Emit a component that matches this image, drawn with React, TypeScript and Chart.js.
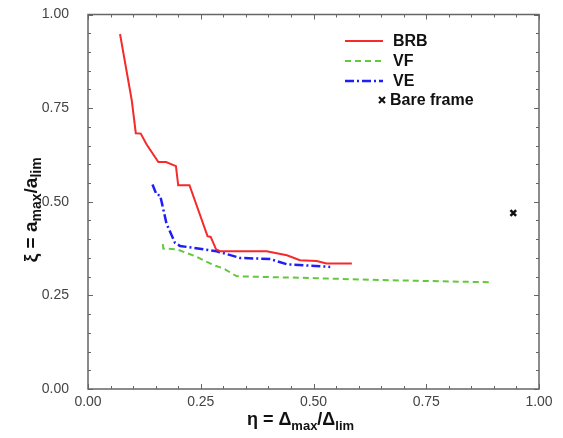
import React, { useEffect, useRef } from "react";
import { Chart, registerables } from "chart.js";

Chart.register(...registerables);

// ---- data ----
const brbEta = [0.071, 0.097, 0.106, 0.117, 0.130, 0.156, 0.173, 0.195, 0.200, 0.225, 0.265, 0.272, 0.284, 0.293, 0.396, 0.441, 0.470, 0.507, 0.529, 0.585];
const brbXi = [0.948, 0.771, 0.683, 0.682, 0.653, 0.606, 0.606, 0.595, 0.544, 0.544, 0.408, 0.406, 0.373, 0.368, 0.368, 0.357, 0.344, 0.342, 0.335, 0.335];

const vfEta = [0.166, 0.167, 0.197, 0.241, 0.278, 0.300, 0.330, 0.503, 0.647, 0.891];
const vfXi = [0.387, 0.375, 0.373, 0.353, 0.331, 0.322, 0.301, 0.296, 0.291, 0.285];

const veEta = [0.143, 0.152, 0.160, 0.174, 0.193, 0.204, 0.285, 0.337, 0.404, 0.441, 0.537];
const veXi = [0.546, 0.519, 0.517, 0.442, 0.390, 0.382, 0.368, 0.350, 0.347, 0.333, 0.326];

const bareEta = [0.943];
const bareXi = [0.470];

const seriesNames = ["BRB", "VF", "VE", "Bare frame"];
const tickLabels = ["0.00", "0.25", "0.50", "0.75", "1.00"];

const FONT = "'Liberation Sans', Arial, Helvetica, sans-serif";

function pts(xs: number[], ys: number[]) {
  return xs.map((x, i) => ({ x, y: ys[i] }));
}

type Seg = { t: string; sub?: boolean };

function drawRich(ctx: CanvasRenderingContext2D, segs: Seg[], size: number, subSize: number, subOff: number) {
  const widths = segs.map((s) => {
    ctx.font = `bold ${s.sub ? subSize : size}px ${FONT}`;
    return ctx.measureText(s.t).width;
  });
  const total = widths.reduce((a, b) => a + b, 0);
  let x = -total / 2;
  segs.forEach((s, i) => {
    ctx.font = `bold ${s.sub ? subSize : size}px ${FONT}`;
    ctx.fillText(s.t, x, s.sub ? subOff : 0);
    x += widths[i];
  });
}

const framePlugin = {
  id: "framePlugin",
  afterDraw(chart: any) {
    const ctx: CanvasRenderingContext2D = chart.ctx;
    const { left, right, top, bottom } = chart.chartArea;
    const xs = chart.scales.x;
    const ys = chart.scales.y;
    ctx.save();
    // box
    ctx.strokeStyle = "#666";
    ctx.lineWidth = 1.5;
    ctx.strokeRect(left, top, right - left, bottom - top);
    // ticks
    ctx.lineWidth = 1;
    for (let i = 0; i <= 20; i++) {
      const v = i * 0.05;
      const len = i % 5 === 0 ? 5 : 3;
      const px = Math.round(xs.getPixelForValue(v)) + 0.5;
      const py = Math.round(ys.getPixelForValue(v)) + 0.5;
      ctx.beginPath();
      ctx.moveTo(px, bottom);
      ctx.lineTo(px, bottom - len);
      ctx.moveTo(px, top);
      ctx.lineTo(px, top + len);
      ctx.moveTo(left, py);
      ctx.lineTo(left + len, py);
      ctx.moveTo(right, py);
      ctx.lineTo(right - len, py);
      ctx.stroke();
    }
    // legend
    const ds = chart.data.datasets;
    const lx0 = 337;
    const lx1 = 375;
    const tx = 385;
    const rows = [33, 53, 73];
    ctx.textBaseline = "middle";
    ctx.textAlign = "left";
    for (let i = 0; i < 3; i++) {
      const d = ds[i];
      ctx.strokeStyle = d.borderColor;
      ctx.lineWidth = d.borderWidth;
      ctx.setLineDash(d.borderDash || []);
      ctx.beginPath();
      ctx.moveTo(lx0, rows[i]);
      ctx.lineTo(lx1, rows[i]);
      ctx.stroke();
      ctx.setLineDash([]);
      ctx.fillStyle = "#111";
      ctx.font = `bold 16px ${FONT}`;
      ctx.fillText(d.label, tx, rows[i] + 1);
    }
    // cross legend
    const cy = 92;
    const cx = 374;
    ctx.strokeStyle = "#111";
    ctx.lineWidth = 2;
    ctx.beginPath();
    ctx.moveTo(cx - 3, cy - 3);
    ctx.lineTo(cx + 3, cy + 3);
    ctx.moveTo(cx + 3, cy - 3);
    ctx.lineTo(cx - 3, cy + 3);
    ctx.stroke();
    ctx.fillText(ds[3].label, 382, cy + 1);

    // axis titles
    ctx.fillStyle = "#111";
    ctx.textBaseline = "alphabetic";
    ctx.save();
    ctx.translate((left + right) / 2 - 13, 417);
    drawRich(ctx, [{ t: "η = Δ" }, { t: "max", sub: true }, { t: "/Δ" }, { t: "lim", sub: true }], 18, 13, 4.5);
    ctx.restore();
    ctx.save();
    ctx.translate(29, (top + bottom) / 2 + 8);
    ctx.rotate(-Math.PI / 2);
    drawRich(ctx, [{ t: "ξ = a" }, { t: "max", sub: true }, { t: "/a" }, { t: "lim", sub: true }], 19, 14, 4);
    ctx.restore();
    ctx.restore();
  },
};

export default function App() {
  const ref = useRef<HTMLCanvasElement>(null);
  useEffect(() => {
    if (!ref.current) return;
    const chart = new Chart(ref.current, {
      type: "scatter",
      data: {
        datasets: [
          {
            label: seriesNames[0],
            data: pts(brbEta, brbXi),
            showLine: true,
            borderColor: "#f52a2a",
            borderWidth: 2,
            pointRadius: 0,
            tension: 0,
          },
          {
            label: seriesNames[1],
            data: pts(vfEta, vfXi),
            showLine: true,
            borderColor: "#62c83c",
            borderWidth: 2,
            borderDash: [6, 4],
            pointRadius: 0,
            tension: 0,
          },
          {
            label: seriesNames[2],
            data: pts(veEta, veXi),
            showLine: true,
            borderColor: "#1f1ff5",
            borderWidth: 2.5,
            borderDash: [9, 3, 2, 3],
            pointRadius: 0,
            tension: 0,
          },
          {
            label: seriesNames[3],
            data: pts(bareEta, bareXi),
            showLine: false,
            pointStyle: "crossRot",
            pointRadius: 4,
            borderWidth: 2.5,
            borderColor: "#111",
            backgroundColor: "#111",
          },
        ] as any,
      },
      options: {
        animation: false,
        responsive: false,
        layout: { padding: { top: 6, right: 16, left: 0, bottom: 0 } },
        plugins: { legend: { display: false }, tooltip: { enabled: false } },
        scales: {
          x: {
            type: "linear",
            min: 0,
            max: 1,
            grid: { display: false, drawTicks: false },
            border: { display: false },
            afterFit: (s: any) => {
              s.height = 41;
              s.paddingLeft = 0;
              s.paddingRight = 0;
            },
            ticks: {
              stepSize: 0.25,
              padding: 5,
              color: "#444",
              font: { family: FONT, size: 14 },
              callback: (v: any) => tickLabels[Math.round(Number(v) * 4)] ?? "",
            },
          },
          y: {
            type: "linear",
            min: 0,
            max: 1,
            grid: { display: false, drawTicks: false },
            border: { display: false },
            afterFit: (s: any) => {
              s.width = 80;
              s.paddingTop = 0;
              s.paddingBottom = 0;
            },
            ticks: {
              stepSize: 0.25,
              padding: 19,
              color: "#444",
              font: { family: FONT, size: 14 },
              callback: (v: any) => tickLabels[Math.round(Number(v) * 4)] ?? "",
            },
          },
        },
      },
      plugins: [framePlugin],
    });
    return () => chart.destroy();
  }, []);
  return <canvas ref={ref} width={547} height={422} style={{ display: "block" }} />;
}
